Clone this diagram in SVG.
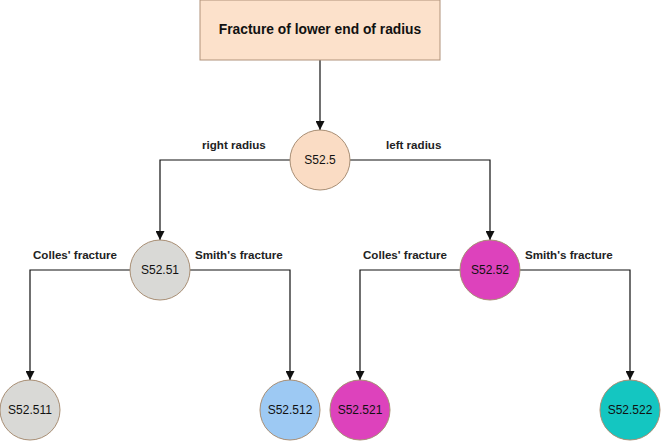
<svg xmlns="http://www.w3.org/2000/svg" width="661" height="441" viewBox="0 0 661 441">
<defs>
<style>
.lbl{font-family:"Liberation Sans",Arial,sans-serif;font-size:11.6px;font-weight:bold;fill:#222}
.nt{font-family:"Liberation Sans",Arial,sans-serif;font-size:12px;fill:#111;text-anchor:middle}
.c{stroke:#A88E74;stroke-width:1}
.e{fill:none;stroke:#111;stroke-width:1.2}
</style>
<marker id="ah" viewBox="0 0 10 10" refX="10" refY="5" markerWidth="9" markerHeight="9" markerUnits="userSpaceOnUse" orient="auto">
<path d="M0,0 L10,5 L0,10 Z" fill="#111"/>
</marker>
</defs>
<rect width="661" height="441" fill="#fff"/>
<g id="connectors">
<path class="e" d="M320,60 V130" marker-end="url(#ah)"/>
<path class="e" d="M290,160 H160 V240" marker-end="url(#ah)"/>
<path class="e" d="M350,160 H490 V240" marker-end="url(#ah)"/>
<path class="e" d="M130,270 H30 V380" marker-end="url(#ah)"/>
<path class="e" d="M190,270 H290 V380" marker-end="url(#ah)"/>
<path class="e" d="M460,270 H360 V380" marker-end="url(#ah)"/>
<path class="e" d="M520,270 H630 V380" marker-end="url(#ah)"/>
</g>
<g id="edge-labels">
<text class="lbl" x="202" y="149">right radius</text>
<text class="lbl" x="386" y="149">left radius</text>
<text class="lbl" x="33" y="259">Colles' fracture</text>
<text class="lbl" x="195" y="259">Smith's fracture</text>
<text class="lbl" x="363" y="259">Colles' fracture</text>
<text class="lbl" x="525" y="259">Smith's fracture</text>
</g>
<g id="root">
<rect x="200" y="0" width="240" height="60" fill="#FCE1CB" stroke="#B0927A"/>
<text x="320" y="34" font-family="Liberation Sans,Arial,sans-serif" font-size="13.8" font-weight="bold" fill="#111" text-anchor="middle">Fracture of lower end of radius</text>
</g>
<g id="n-S52.5"><circle class="c" cx="320" cy="160" r="30" fill="#FADCC4"/><text class="nt" x="320" y="164">S52.5</text></g>
<g id="n-S52.51"><circle class="c" cx="160" cy="270" r="30" fill="#D9D9D6"/><text class="nt" x="160" y="274">S52.51</text></g>
<g id="n-S52.52"><circle class="c" cx="490" cy="270" r="30" fill="#DD42BC"/><text class="nt" x="490" y="274">S52.52</text></g>
<g id="n-S52.511"><circle class="c" cx="30" cy="410" r="30" fill="#D9D9D6"/><text class="nt" x="30" y="414">S52.511</text></g>
<g id="n-S52.512"><circle class="c" cx="290" cy="410" r="30" fill="#9DC9F3"/><text class="nt" x="290" y="414">S52.512</text></g>
<g id="n-S52.521"><circle class="c" cx="360" cy="410" r="30" fill="#DD42BC"/><text class="nt" x="360" y="414">S52.521</text></g>
<g id="n-S52.522"><circle class="c" cx="630" cy="410" r="30" fill="#14C6C1"/><text class="nt" x="630" y="414">S52.522</text></g>
</svg>
